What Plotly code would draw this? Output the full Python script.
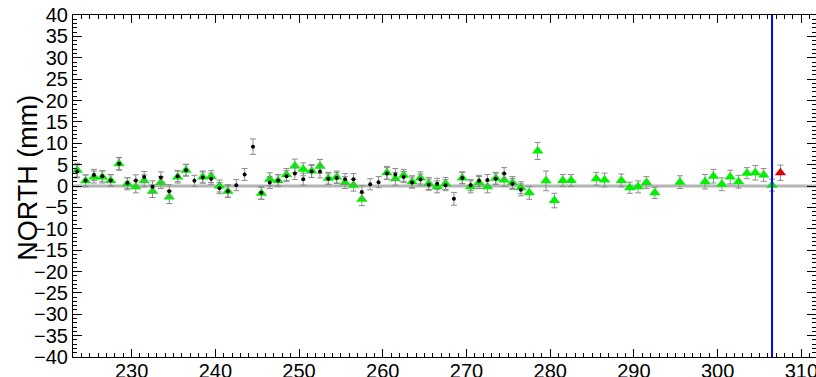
import plotly.graph_objects as go

# Daily north residuals (mm), day-of-year at noon
black_days = [223.5 + i for i in range(54)]  # 223.5 .. 276.5
black_vals = [3.4, 1.3, 2.6, 2.3, 1.3, 5.2, 0.7, 1.3, 2.1, -0.2,
              2.0, -1.2, 2.3, 3.7, 1.2, 2.0, 1.7, -0.5, -1.2, 0.2,
              2.7, 9.2, -1.6, 0.8, 1.3, 2.3, 2.9, 1.6, 3.4, 3.4,
              1.7, 1.9, 1.6, 1.6, -1.4, 0.4, 0.9, 2.9, 2.7, 2.1,
              0.8, 1.5, 0.3, 0.5, 0.2, -3.0, 1.9, 0.2, 1.2, 1.4,
              1.7, 2.9, 0.5, -0.9]
black_err = [1.5, 1.3, 1.3, 1.3, 1.3, 1.4, 1.3, 1.3, 1.3, 1.4,
             1.3, 1.5, 1.3, 1.3, 1.3, 1.3, 1.3, 1.3, 1.5, 1.3,
             1.4, 1.8, 1.5, 1.4, 1.3, 1.3, 1.4, 1.4, 1.4, 1.5,
             1.3, 1.3, 1.3, 1.3, 1.5, 1.3, 1.3, 1.4, 1.4, 1.3,
             1.3, 1.3, 1.3, 1.3, 1.3, 1.5, 1.3, 1.3, 1.3, 1.3,
             1.3, 1.4, 1.3, 1.4]

green_days = [223.5, 224.5, 225.5, 226.5, 227.5, 228.5, 229.5, 230.5, 231.5, 232.5,
              233.5, 234.5, 235.5, 236.5, 238.5, 239.5, 240.5, 241.5, 245.5, 246.5,
              247.5, 248.5, 249.5, 250.5, 251.5, 252.5, 253.5, 254.5, 255.5, 256.5,
              257.5, 260.5, 261.5, 262.5, 263.5, 264.5, 265.5, 266.5, 267.5, 269.5,
              270.5, 271.5, 272.5, 273.5, 274.5, 275.5, 276.5, 277.5, 278.5, 279.5,
              280.5, 281.5, 282.5, 285.5, 286.5, 288.5, 289.5, 290.5, 291.5, 292.5,
              295.5, 298.5, 299.5, 300.5, 301.5, 302.5, 303.5, 304.5, 305.5, 306.5]
green_vals = [3.7, 1.2, 2.1, 2.1, 1.3, 5.2, 0.5, -0.2, 1.2, -1.2,
              0.8, -2.6, 2.1, 3.7, 2.1, 2.2, 0.0, -1.2, -1.7, 1.6,
              1.3, 2.7, 4.7, 3.9, 3.5, 4.6, 1.8, 2.1, 0.8, 0.2,
              -3.1, 3.1, 1.7, 2.5, 1.0, 1.9, 0.6, -0.2, 0.6, 1.9,
              -0.2, 0.8, -0.2, 1.8, 1.4, 0.8, -0.4, -1.6, 8.2, 1.2,
              -3.4, 1.3, 1.3, 1.7, 1.4, 1.3, -0.4, -0.2, 0.8, -1.6,
              0.9, 1.0, 2.3, 0.4, 2.1, 1.0, 3.0, 3.1, 2.6, 0.2]
green_err = [1.6, 1.4, 1.4, 1.4, 1.4, 1.5, 1.4, 1.4, 1.4, 1.5,
             1.4, 1.5, 1.4, 1.4, 1.4, 1.4, 1.4, 1.4, 1.4, 1.5,
             1.4, 1.4, 1.6, 1.5, 1.5, 1.6, 1.4, 1.4, 1.4, 1.4,
             1.5, 1.5, 1.5, 1.4, 1.4, 1.4, 1.4, 1.4, 1.4, 1.4,
             1.4, 1.4, 1.4, 1.4, 1.5, 1.4, 1.4, 1.5, 2.0, 2.3,
             1.7, 1.4, 1.4, 1.5, 1.6, 1.5, 1.3, 1.4, 1.4, 1.3,
             1.5, 1.7, 1.6, 1.5, 1.6, 1.5, 1.3, 1.7, 1.5, 1.4]

red_days = [307.5]
red_vals = [3.1]
red_err = [1.8]

event_day = 306.5

x_range = [223, 311.75]
y_range = [-40, 40]
y_ticks = list(range(-40, 41, 5))
y_labels = [str(v).replace("-", "\u2212") for v in y_ticks]
x_ticks = list(range(230, 320, 10))

err_style = dict(type="data", color="#8c8c8c", thickness=1, width=3)

fig = go.Figure()

# zero reference line
fig.add_shape(type="line", xref="paper", x0=0, x1=1, yref="y", y0=0, y1=0,
              line=dict(color="#b4b4b4", width=3), layer="below")

fig.add_trace(go.Scatter(
    x=green_days, y=green_vals, mode="markers",
    marker=dict(symbol="triangle-up", size=10, color="#00f000", line=dict(width=0)),
    error_y=dict(array=green_err, **err_style), showlegend=False))

fig.add_trace(go.Scatter(
    x=black_days, y=black_vals, mode="markers",
    marker=dict(symbol="circle", size=4, color="#000000", line=dict(width=0)),
    error_y=dict(array=black_err, **err_style), showlegend=False))

fig.add_trace(go.Scatter(
    x=red_days, y=red_vals, mode="markers",
    marker=dict(symbol="triangle-up", size=10, color="#e00000", line=dict(width=0)),
    error_y=dict(array=red_err, **err_style), showlegend=False))

# event marker
fig.add_shape(type="line", xref="x", x0=event_day, x1=event_day, yref="paper", y0=0, y1=1,
              line=dict(color="#0000ff", width=2))

font_family = "Liberation Sans, Arial, sans-serif"

fig.update_layout(
    width=816, height=377,
    margin=dict(l=73, r=0, t=15, b=20, autoexpand=False),
    paper_bgcolor="white", plot_bgcolor="white",
    font=dict(family=font_family, color="#000000"),
    xaxis=dict(range=x_range, tickvals=x_ticks, ticks="inside", ticklen=8, tickwidth=1,
               tickcolor="#000000", showline=True, linecolor="#000000", linewidth=1,
               mirror="ticks", showgrid=False, zeroline=False, automargin=False,
               ticklabeloverflow="allow", ticklabelstandoff=-4,
               tickfont=dict(size=20, family=font_family),
               minor=dict(dtick=1, tick0=0, ticks="inside", ticklen=4, tickcolor="#000000",
                          showgrid=False)),
    yaxis=dict(range=y_range, tickvals=y_ticks, ticktext=y_labels, ticks="inside", ticklen=9,
               tickwidth=1, tickcolor="#000000", showline=True, linecolor="#000000",
               linewidth=1, mirror="ticks", showgrid=False, zeroline=False, automargin=False,
               tickfont=dict(size=20, family=font_family),
               minor=dict(dtick=1, tick0=0, ticks="inside", ticklen=4, tickcolor="#000000",
                          showgrid=False)),
    annotations=[dict(text="NORTH (mm)", textangle=-90, xref="paper", yref="paper",
                      x=-0.061, y=0.523, xanchor="center", yanchor="middle", showarrow=False,
                      font=dict(size=27, family=font_family, color="#000000"))],
)

fig.write_html("out.html")
